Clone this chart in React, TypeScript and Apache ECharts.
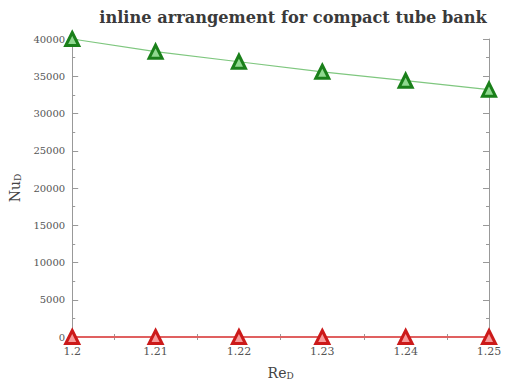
import React, { useEffect, useRef } from "react";
import * as echarts from "echarts";

const reValues = [1.2, 1.21, 1.22, 1.23, 1.24, 1.25];
const nuCompact = [40000, 38300, 36950, 35600, 34400, 33200];
const nuOther = [0, 0, 0, 0, 0, 0];
const titleText = "inline arrangement for compact tube bank";

const SERIF = "'DejaVu Serif', 'Liberation Serif', serif";

export default function App() {
  const ref = useRef<HTMLDivElement>(null);
  useEffect(() => {
    if (!ref.current) return;
    const chart = echarts.init(ref.current, undefined, { renderer: "svg" });
    const axisLine = { show: true, lineStyle: { color: "#999", width: 1 } };
    const tickStyle = { color: "#999", width: 1 };
    const nameRich = {
      a: { fontFamily: SERIF, fontSize: 14, color: "#444" },
      b: { fontFamily: SERIF, fontSize: 9, color: "#444", verticalAlign: "bottom", padding: [6, 0, 0, 0] },
    };
    chart.setOption({
      animation: false,
      backgroundColor: "#fff",
      title: {
        text: titleText,
        left: 288,
        top: 4,
        textAlign: "center",
        textStyle: { fontFamily: SERIF, fontSize: 16.2, fontWeight: "bold", color: "#3a3a3a" },
      },
      grid: { left: 49, right: 16, top: 39, bottom: 48 },
      xAxis: [
        {
          type: "value",
          min: 1.2,
          max: 1.25,
          interval: 0.01,
          position: "bottom",
          name: "{a|Re}{b|D}",
          nameLocation: "middle",
          nameGap: 28,
          nameTextStyle: { rich: nameRich },
          axisLine,
          axisTick: { show: true, inside: true, length: 6, lineStyle: tickStyle },
          minorTick: { show: true, splitNumber: 2, length: 3, lineStyle: tickStyle },
          splitLine: { show: false },
          axisLabel: {
            fontFamily: SERIF,
            fontSize: 11,
            color: "#555",
            margin: 9,
            formatter: (v: number) => parseFloat(v.toFixed(2)).toString(),
          },
        },
        {
          type: "value",
          min: 1.2,
          max: 1.25,
          interval: 0.01,
          position: "top",
          axisLine,
          axisTick: { show: true, inside: true, length: 6, lineStyle: tickStyle },
          minorTick: { show: true, splitNumber: 2, length: 3, lineStyle: tickStyle },
          splitLine: { show: false },
          axisLabel: { show: false },
        },
      ],
      yAxis: [
        {
          type: "value",
          min: 0,
          max: 40000,
          interval: 5000,
          position: "left",
          name: "{a|Nu}{b|D}",
          nameLocation: "middle",
          nameGap: 22,
          nameRotate: 90,
          nameTextStyle: { rich: nameRich },
          axisLine,
          axisTick: { show: true, inside: true, length: 6, lineStyle: tickStyle },
          minorTick: { show: true, splitNumber: 2, length: 3, lineStyle: tickStyle },
          splitLine: { show: false },
          axisLabel: {
            fontFamily: SERIF,
            fontSize: 10,
            color: "#555",
            margin: 7,
            formatter: (v: number) => String(v),
          },
        },
        {
          type: "value",
          min: 0,
          max: 40000,
          interval: 5000,
          position: "right",
          axisLine,
          axisTick: { show: true, inside: true, length: 6, lineStyle: tickStyle },
          minorTick: { show: true, splitNumber: 2, length: 3, lineStyle: tickStyle },
          splitLine: { show: false },
          axisLabel: { show: false },
        },
      ],
      series: [
        {
          type: "line",
          data: reValues.map((x, i) => [x, nuCompact[i]]),
          symbol: "triangle",
          symbolSize: 13,
          lineStyle: { color: "#7fc77f", width: 1.2 },
          itemStyle: { color: "#8fd88f", borderColor: "#1a801a", borderWidth: 3 },
          z: 3,
        },
        {
          type: "line",
          data: reValues.map((x, i) => [x, nuOther[i]]),
          symbol: "triangle",
          symbolSize: 13,
          lineStyle: { color: "#e06060", width: 2 },
          itemStyle: { color: "#f79a9a", borderColor: "#cc1a1a", borderWidth: 3 },
          z: 4,
        },
      ],
    });
    return () => chart.dispose();
  }, []);
  return <div ref={ref} style={{ width: 505, height: 385, position: "absolute", left: 0, top: 0 }} />;
}
